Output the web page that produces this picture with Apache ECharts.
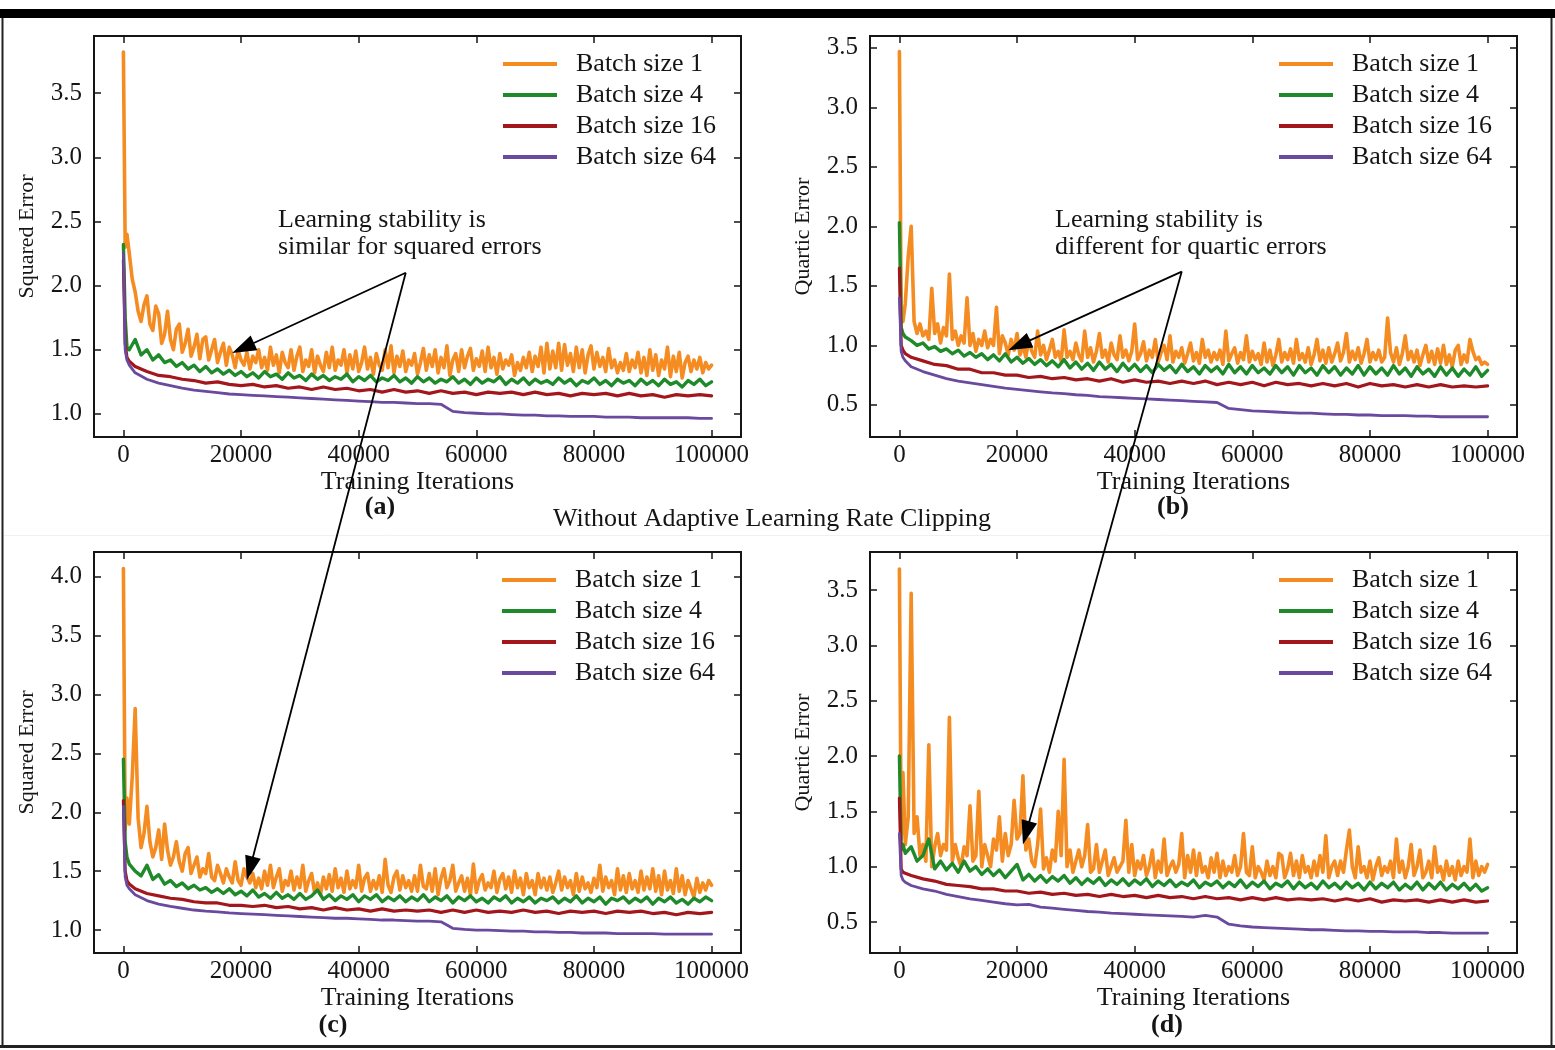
<!DOCTYPE html>
<html>
<head>
<meta charset="utf-8">
<script src="https://cdn.jsdelivr.net/npm/echarts@6/dist/echarts.min.js"></script>
<style>
  html, body { margin: 0; padding: 0; background: #fff; }
  #chart { width: 1555px; height: 1050px; }
</style>
</head>
<body>
<div id="chart"></div>
<script>
// ---- sample points (training iterations) ----
// batch size 1: every 500 iterations
const iterDense = [
  0, 300, 600, 1000, 1500, 2000, 2500, 3000, 3500, 4000,
  4500, 5000, 5500, 6000, 6500, 7000, 7500, 8000, 8500, 9000,
  9500, 10000, 10500, 11000, 11500, 12000, 12500, 13000, 13500, 14000,
  14500, 15000, 15500, 16000, 16500, 17000, 17500, 18000, 18500, 19000,
  19500, 20000, 20500, 21000, 21500, 22000, 22500, 23000, 23500, 24000,
  24500, 25000, 25500, 26000, 26500, 27000, 27500, 28000, 28500, 29000,
  29500, 30000, 30500, 31000, 31500, 32000, 32500, 33000, 33500, 34000,
  34500, 35000, 35500, 36000, 36500, 37000, 37500, 38000, 38500, 39000,
  39500, 40000, 40500, 41000, 41500, 42000, 42500, 43000, 43500, 44000,
  44500, 45000, 45500, 46000, 46500, 47000, 47500, 48000, 48500, 49000,
  49500, 50000, 50500, 51000, 51500, 52000, 52500, 53000, 53500, 54000,
  54500, 55000, 55500, 56000, 56500, 57000, 57500, 58000, 58500, 59000,
  59500, 60000, 60500, 61000, 61500, 62000, 62500, 63000, 63500, 64000,
  64500, 65000, 65500, 66000, 66500, 67000, 67500, 68000, 68500, 69000,
  69500, 70000, 70500, 71000, 71500, 72000, 72500, 73000, 73500, 74000,
  74500, 75000, 75500, 76000, 76500, 77000, 77500, 78000, 78500, 79000,
  79500, 80000, 80500, 81000, 81500, 82000, 82500, 83000, 83500, 84000,
  84500, 85000, 85500, 86000, 86500, 87000, 87500, 88000, 88500, 89000,
  89500, 90000, 90500, 91000, 91500, 92000, 92500, 93000, 93500, 94000,
  94500, 95000, 95500, 96000, 96500, 97000, 97500, 98000, 98500, 99000,
  99500, 100000
];
// batch size 4: every 1000 iterations
const iterFine = [
  0, 300, 600, 1000, 2000, 3000, 4000, 5000, 6000, 7000,
  8000, 9000, 10000, 11000, 12000, 13000, 14000, 15000, 16000, 17000,
  18000, 19000, 20000, 21000, 22000, 23000, 24000, 25000, 26000, 27000,
  28000, 29000, 30000, 31000, 32000, 33000, 34000, 35000, 36000, 37000,
  38000, 39000, 40000, 41000, 42000, 43000, 44000, 45000, 46000, 47000,
  48000, 49000, 50000, 51000, 52000, 53000, 54000, 55000, 56000, 57000,
  58000, 59000, 60000, 61000, 62000, 63000, 64000, 65000, 66000, 67000,
  68000, 69000, 70000, 71000, 72000, 73000, 74000, 75000, 76000, 77000,
  78000, 79000, 80000, 81000, 82000, 83000, 84000, 85000, 86000, 87000,
  88000, 89000, 90000, 91000, 92000, 93000, 94000, 95000, 96000, 97000,
  98000, 99000, 100000
];
// batch sizes 16 and 64: every 2000 iterations
const iterCoarse = [
  0, 300, 600, 1000, 2000, 4000, 6000, 8000, 10000, 12000,
  14000, 16000, 18000, 20000, 22000, 24000, 26000, 28000, 30000, 32000,
  34000, 36000, 38000, 40000, 42000, 44000, 46000, 48000, 50000, 52000,
  54000, 56000, 58000, 60000, 62000, 64000, 66000, 68000, 70000, 72000,
  74000, 76000, 78000, 80000, 82000, 84000, 86000, 88000, 90000, 92000,
  94000, 96000, 98000, 100000
];

// ---- tick labels ----
const xTicks = [0, 20000, 40000, 60000, 80000, 100000];
const yTicksA = [1.0, 1.5, 2.0, 2.5, 3.0, 3.5];
const yTicksB = [0.5, 1.0, 1.5, 2.0, 2.5, 3.0, 3.5];
const yTicksC = [1.0, 1.5, 2.0, 2.5, 3.0, 3.5, 4.0];
const yTicksD = [0.5, 1.0, 1.5, 2.0, 2.5, 3.0, 3.5];

const seriesNames = ['Batch size 1', 'Batch size 4', 'Batch size 16', 'Batch size 64'];

// ---- (a) squared error ----
const sqA_b1 = [
  3.82, 2.30, 2.40, 2.25, 2.05, 1.95, 1.80, 1.72, 1.85, 1.92,
  1.70, 1.65, 1.84, 1.78, 1.55, 1.62, 1.80, 1.58, 1.50, 1.66,
  1.70, 1.48, 1.55, 1.66, 1.45, 1.52, 1.62, 1.43, 1.58, 1.60,
  1.42, 1.50, 1.58, 1.40, 1.48, 1.55, 1.38, 1.52, 1.46, 1.36,
  1.50, 1.42, 1.38, 1.48, 1.35, 1.45, 1.40, 1.50, 1.36, 1.44,
  1.34, 1.52, 1.38, 1.46, 1.32, 1.48, 1.40, 1.36, 1.50, 1.34,
  1.45, 1.52, 1.33, 1.42, 1.37, 1.50, 1.32, 1.45, 1.38, 1.33,
  1.48, 1.36, 1.52, 1.34, 1.42, 1.38, 1.50, 1.32, 1.46, 1.35,
  1.49, 1.33, 1.40, 1.52, 1.35, 1.44, 1.31, 1.47, 1.38, 1.34,
  1.50, 1.36, 1.53, 1.32, 1.45, 1.37, 1.49, 1.33, 1.42, 1.38,
  1.47, 1.31, 1.40, 1.51, 1.34, 1.46, 1.37, 1.50, 1.32, 1.44,
  1.36, 1.53, 1.30, 1.42, 1.47, 1.33, 1.50, 1.36, 1.45, 1.51,
  1.34, 1.43, 1.37, 1.49, 1.33, 1.52, 1.36, 1.44, 1.31, 1.47,
  1.35, 1.42, 1.38, 1.46, 1.30, 1.40, 1.34, 1.44, 1.36, 1.48,
  1.33, 1.45, 1.37, 1.52, 1.32, 1.55, 1.35, 1.49, 1.36, 1.55,
  1.34, 1.54, 1.38, 1.47, 1.33, 1.52, 1.36, 1.50, 1.32, 1.46,
  1.53, 1.35, 1.48, 1.37, 1.44, 1.33, 1.51, 1.36, 1.42, 1.32,
  1.40, 1.34, 1.47, 1.33, 1.42, 1.36, 1.48, 1.32, 1.44, 1.30,
  1.50, 1.34, 1.46, 1.30, 1.42, 1.35, 1.52, 1.29, 1.45, 1.33,
  1.48, 1.28, 1.40, 1.45, 1.33, 1.42, 1.35, 1.44, 1.32, 1.40,
  1.35, 1.38
];
const sqA_b4 = [
  2.32, 1.75, 1.52, 1.50, 1.58, 1.46, 1.50, 1.42, 1.46, 1.40,
  1.42, 1.37, 1.40, 1.35, 1.38, 1.33, 1.37, 1.32, 1.35, 1.31,
  1.34, 1.30, 1.33, 1.29, 1.32, 1.28, 1.33, 1.29, 1.31, 1.27,
  1.32, 1.28, 1.30, 1.26, 1.31, 1.27, 1.30, 1.26, 1.29, 1.27,
  1.31, 1.25, 1.29, 1.26, 1.30, 1.25, 1.28, 1.26, 1.30, 1.25,
  1.28, 1.24, 1.29, 1.25, 1.28, 1.24, 1.27, 1.25, 1.29, 1.24,
  1.27, 1.23, 1.28, 1.24, 1.27, 1.25, 1.29, 1.23, 1.27, 1.24,
  1.28, 1.23, 1.27, 1.24, 1.26, 1.23, 1.28, 1.24, 1.27, 1.22,
  1.26, 1.24, 1.28, 1.23, 1.26, 1.22, 1.27, 1.24, 1.26, 1.22,
  1.27, 1.23, 1.26, 1.22, 1.27, 1.23, 1.25, 1.21, 1.26, 1.23,
  1.27, 1.22, 1.25
];
const sqA_b16 = [
  2.20, 1.55, 1.44, 1.41, 1.37, 1.33, 1.30, 1.29, 1.27, 1.26,
  1.24, 1.25, 1.23, 1.22, 1.23, 1.21, 1.22, 1.20, 1.21, 1.19,
  1.21, 1.19, 1.20, 1.18, 1.19, 1.17, 1.19, 1.17, 1.18, 1.16,
  1.18, 1.16, 1.17, 1.15, 1.17, 1.16, 1.17, 1.15, 1.17, 1.15,
  1.16, 1.14, 1.16, 1.15, 1.16, 1.14, 1.16, 1.14, 1.15, 1.13,
  1.15, 1.14, 1.15, 1.14
];
const sqA_b64 = [
  2.25, 1.50, 1.42, 1.38, 1.32, 1.27, 1.24, 1.22, 1.20, 1.185,
  1.175, 1.165, 1.155, 1.15, 1.145, 1.14, 1.135, 1.13, 1.125, 1.12,
  1.115, 1.11, 1.105, 1.10, 1.095, 1.09, 1.09, 1.085, 1.08, 1.08,
  1.075, 1.02, 1.01, 1.005, 1.00, 1.00, 0.995, 0.99, 0.99, 0.985,
  0.985, 0.98, 0.98, 0.98, 0.975, 0.975, 0.975, 0.97, 0.97, 0.97,
  0.97, 0.97, 0.965, 0.965
];

// ---- (b) quartic error ----
const quB_b1 = [
  3.47, 1.25, 1.20, 1.35, 1.75, 2.00, 1.20, 1.10, 1.18, 1.08,
  1.12, 1.05, 1.48, 1.10, 1.18, 1.02, 1.15, 1.08, 1.60, 1.05,
  1.12, 1.00, 1.08, 1.02, 1.40, 1.00, 1.10, 0.95, 1.05, 1.00,
  1.12, 0.98, 1.05, 1.00, 1.32, 0.93, 1.08, 1.02, 0.92, 1.05,
  0.96, 1.10, 0.92, 1.00, 0.90, 1.05, 0.95, 0.90, 1.12, 0.92,
  1.00, 0.88, 0.96, 1.05, 0.90, 0.95, 0.87, 1.13, 0.90, 0.95,
  0.88, 1.02, 0.92, 0.87, 1.12, 0.90, 0.98, 0.86, 0.95, 1.10,
  0.90, 0.96, 0.86, 1.02, 0.92, 0.88, 1.08, 0.90, 0.96, 0.87,
  0.95, 1.18, 0.88, 0.93, 1.03, 0.87, 0.96, 0.90, 1.05, 0.86,
  0.94, 1.00, 0.88, 1.08, 0.86, 0.95, 0.90, 0.98, 0.85, 0.93,
  1.02, 0.87, 0.94, 0.85, 1.05, 0.90, 0.96, 0.86, 0.94, 0.88,
  0.96, 0.84, 1.12, 0.87, 0.93, 0.98, 0.85, 0.94, 0.88, 1.08,
  0.86, 0.95, 0.88, 0.93, 0.84, 1.02, 0.86, 0.96, 0.83, 0.92,
  1.05, 0.86, 0.94, 0.88, 0.97, 0.85, 1.05, 0.88, 0.93, 0.86,
  0.98, 0.84, 0.92, 1.05, 0.87, 0.96, 0.85, 0.98, 0.86, 0.93,
  1.02, 0.87, 0.94, 1.10, 0.86, 0.95, 0.88, 0.98, 0.85, 0.93,
  1.05, 0.86, 0.94, 0.88, 0.96, 0.86, 0.90, 1.23, 0.94, 0.86,
  0.98, 0.84, 0.93, 1.08, 0.88, 0.95, 0.86, 0.96, 0.83, 0.92,
  1.00, 0.86, 0.95, 0.84, 0.97, 0.85, 1.00, 0.84, 0.92, 0.82,
  0.96, 1.00, 0.84, 0.92, 0.86, 1.05, 0.95, 0.88, 0.90, 0.84,
  0.86, 0.84
];
const quB_b4 = [
  2.03, 1.15, 1.10, 1.07, 1.04, 1.00, 1.02, 0.97, 0.99, 0.95,
  0.97, 0.93, 0.96, 0.91, 0.94, 0.90, 0.93, 0.88, 0.92, 0.87,
  0.93, 0.86, 0.90, 0.85, 0.89, 0.84, 0.88, 0.83, 0.87, 0.82,
  0.88, 0.81, 0.86, 0.80, 0.85, 0.79, 0.86, 0.80, 0.84, 0.78,
  0.85, 0.79, 0.84, 0.78, 0.83, 0.77, 0.84, 0.79, 0.83, 0.77,
  0.84, 0.78, 0.82, 0.76, 0.83, 0.78, 0.82, 0.76, 0.84, 0.77,
  0.82, 0.76, 0.83, 0.77, 0.81, 0.76, 0.83, 0.77, 0.82, 0.75,
  0.83, 0.77, 0.81, 0.75, 0.83, 0.77, 0.82, 0.75, 0.81, 0.76,
  0.83, 0.75, 0.82, 0.76, 0.81, 0.75, 0.83, 0.76, 0.81, 0.74,
  0.82, 0.76, 0.80, 0.74, 0.82, 0.75, 0.81, 0.74, 0.80, 0.75,
  0.82, 0.74, 0.79
];
const quB_b16 = [
  1.65, 1.00, 0.96, 0.93, 0.90, 0.87, 0.84, 0.83, 0.80, 0.80,
  0.77, 0.77, 0.75, 0.75, 0.73, 0.74, 0.72, 0.73, 0.71, 0.72,
  0.70, 0.72, 0.69, 0.71, 0.69, 0.70, 0.68, 0.70, 0.68, 0.70,
  0.67, 0.69, 0.67, 0.69, 0.66, 0.69, 0.67, 0.68, 0.66, 0.68,
  0.66, 0.68, 0.65, 0.68, 0.66, 0.67, 0.65, 0.67, 0.65, 0.67,
  0.65, 0.66, 0.65, 0.66
];
const quB_b64 = [
  1.40, 0.95, 0.90, 0.87, 0.82, 0.78, 0.75, 0.72, 0.70, 0.685,
  0.67, 0.655, 0.64, 0.63, 0.62, 0.61, 0.60, 0.595, 0.585, 0.58,
  0.57, 0.565, 0.56, 0.555, 0.55, 0.545, 0.54, 0.535, 0.53, 0.525,
  0.52, 0.47, 0.46, 0.45, 0.445, 0.44, 0.435, 0.43, 0.43, 0.425,
  0.42, 0.42, 0.415, 0.415, 0.41, 0.41, 0.41, 0.405, 0.405, 0.40,
  0.40, 0.40, 0.40, 0.40
];

// ---- (c) squared error ----
const sqC_b1 = [
  4.07, 1.85, 2.12, 1.90, 2.30, 2.88, 1.95, 1.70, 1.82, 2.05,
  1.75, 1.62, 1.70, 1.85, 1.60, 1.90, 1.68, 1.55, 1.62, 1.75,
  1.58, 1.50, 1.65, 1.70, 1.48, 1.55, 1.62, 1.45, 1.52, 1.48,
  1.65, 1.45, 1.42, 1.55, 1.48, 1.40, 1.52, 1.45, 1.40, 1.58,
  1.42, 1.38, 1.52, 1.45, 1.40, 1.48, 1.36, 1.44, 1.35, 1.50,
  1.38, 1.55, 1.36, 1.45, 1.52, 1.33, 1.42, 1.38, 1.50, 1.34,
  1.45, 1.36, 1.55, 1.33, 1.42, 1.48, 1.32, 1.40, 1.30, 1.45,
  1.35, 1.47, 1.33, 1.52, 1.36, 1.44, 1.32, 1.50, 1.35, 1.42,
  1.36, 1.55, 1.33, 1.44, 1.48, 1.33, 1.42, 1.35, 1.46, 1.32,
  1.60, 1.38, 1.32, 1.45, 1.50, 1.34, 1.46, 1.36, 1.42, 1.33,
  1.46, 1.33, 1.55, 1.37, 1.35, 1.48, 1.33, 1.52, 1.30, 1.44,
  1.52, 1.36, 1.42, 1.55, 1.33, 1.40, 1.46, 1.33, 1.44, 1.30,
  1.56, 1.32, 1.42, 1.47, 1.34, 1.40, 1.36, 1.50, 1.32, 1.43,
  1.48, 1.35, 1.45, 1.32, 1.50, 1.36, 1.44, 1.30, 1.48, 1.36,
  1.42, 1.30, 1.48, 1.36, 1.44, 1.34, 1.45, 1.32, 1.40, 1.50,
  1.34, 1.45, 1.36, 1.42, 1.30, 1.48, 1.33, 1.45, 1.35, 1.40,
  1.32, 1.44, 1.36, 1.55, 1.33, 1.45, 1.36, 1.42, 1.30, 1.52,
  1.34, 1.46, 1.32, 1.48, 1.35, 1.42, 1.32, 1.50, 1.34, 1.45,
  1.35, 1.52, 1.33, 1.46, 1.30, 1.50, 1.34, 1.42, 1.31, 1.52,
  1.33, 1.46, 1.30, 1.42, 1.35, 1.28, 1.44, 1.32, 1.40, 1.34,
  1.42, 1.38
];
const sqC_b4 = [
  2.45, 1.75, 1.62, 1.56, 1.50, 1.46, 1.55, 1.43, 1.47, 1.39,
  1.42, 1.37, 1.40, 1.35, 1.38, 1.34, 1.36, 1.32, 1.35, 1.31,
  1.35, 1.30, 1.33, 1.29, 1.34, 1.28, 1.31, 1.27, 1.32, 1.27,
  1.30, 1.26, 1.31, 1.26, 1.29, 1.34, 1.26, 1.30, 1.25, 1.29,
  1.26, 1.30, 1.24, 1.29, 1.26, 1.30, 1.24, 1.28, 1.25, 1.29,
  1.24, 1.28, 1.25, 1.30, 1.24, 1.28, 1.25, 1.29, 1.23, 1.28,
  1.25, 1.29, 1.24, 1.27, 1.23, 1.28, 1.25, 1.29, 1.23, 1.27,
  1.24, 1.28, 1.23, 1.27, 1.25, 1.28, 1.23, 1.27, 1.24, 1.29,
  1.23, 1.27, 1.24, 1.28, 1.22, 1.27, 1.25, 1.28, 1.23, 1.27,
  1.24, 1.28, 1.22, 1.27, 1.24, 1.28, 1.23, 1.26, 1.22, 1.27,
  1.24, 1.28, 1.25
];
const sqC_b16 = [
  2.10, 1.50, 1.42, 1.39, 1.35, 1.31, 1.29, 1.27, 1.26, 1.24,
  1.23, 1.23, 1.21, 1.21, 1.20, 1.21, 1.19, 1.20, 1.18, 1.19,
  1.17, 1.19, 1.17, 1.18, 1.16, 1.18, 1.16, 1.17, 1.16, 1.17,
  1.15, 1.17, 1.15, 1.17, 1.15, 1.16, 1.15, 1.17, 1.15, 1.16,
  1.14, 1.16, 1.15, 1.16, 1.14, 1.16, 1.15, 1.16, 1.14, 1.15,
  1.13, 1.15, 1.14, 1.15
];
const sqC_b64 = [
  2.05, 1.45, 1.38, 1.35, 1.30, 1.25, 1.22, 1.20, 1.185, 1.17,
  1.16, 1.155, 1.145, 1.14, 1.135, 1.13, 1.125, 1.12, 1.115, 1.11,
  1.105, 1.10, 1.10, 1.095, 1.09, 1.085, 1.085, 1.08, 1.075, 1.075,
  1.07, 1.015, 1.005, 1.00, 1.00, 0.995, 0.99, 0.99, 0.985, 0.985,
  0.98, 0.98, 0.975, 0.975, 0.975, 0.97, 0.97, 0.97, 0.97, 0.965,
  0.965, 0.965, 0.965, 0.965
];

// ---- (d) quartic error ----
const quD_b1 = [
  3.69, 1.25, 1.85, 1.20, 1.45, 3.47, 1.30, 1.45, 1.10, 1.20,
  1.05, 2.10, 1.00, 1.18, 1.30, 1.10, 1.20, 1.15, 2.35, 1.05,
  1.20, 1.08, 1.00, 1.18, 1.10, 1.55, 1.05, 1.10, 1.68, 1.00,
  1.20, 1.10, 1.00, 1.25, 1.15, 1.45, 1.05, 1.30, 1.10, 1.20,
  1.60, 1.25, 1.30, 1.82, 1.15, 1.25, 1.05, 1.00, 1.20, 1.52,
  0.98, 1.08, 0.95, 1.15, 1.05, 1.50, 1.10, 1.97, 1.00, 1.15,
  0.95, 1.05, 1.15, 1.00, 1.10, 1.38, 0.95, 0.98, 1.20, 0.95,
  1.05, 1.15, 0.92, 1.00, 1.08, 0.95, 1.00, 1.05, 1.42, 0.95,
  1.20, 0.92, 1.05, 0.98, 1.10, 0.92, 1.00, 1.15, 0.90, 1.05,
  0.95, 1.25, 0.92, 1.00, 1.05, 0.95, 1.02, 1.30, 0.90, 1.10,
  0.95, 1.15, 0.92, 1.12, 0.95, 1.00, 0.90, 1.08, 0.95, 1.12,
  0.90, 1.05, 0.92, 1.00, 0.95, 1.10, 0.92, 1.00, 1.30, 0.95,
  0.92, 1.18, 0.90, 1.00, 0.95, 0.88, 1.05, 0.92, 1.00, 0.90,
  1.12, 1.10, 0.90, 0.98, 1.12, 0.92, 1.05, 0.90, 1.10, 0.95,
  1.00, 0.90, 1.05, 0.92, 1.10, 0.95, 1.28, 0.90, 1.00, 1.05,
  0.92, 1.05, 0.95, 1.15, 1.33, 1.00, 0.90, 1.18, 0.95, 1.00,
  0.90, 1.05, 0.88, 1.00, 1.08, 0.92, 1.00, 0.95, 1.05, 0.90,
  1.25, 0.95, 1.05, 0.90, 1.00, 1.20, 0.92, 1.00, 1.15, 0.90,
  0.95, 1.05, 0.90, 1.18, 0.95, 1.00, 0.88, 1.05, 0.92, 1.00,
  0.88, 1.05, 0.92, 1.00, 0.95, 1.25, 0.90, 1.05, 0.92, 1.00,
  0.95, 1.02
];
const quD_b4 = [
  2.00, 1.15, 1.20, 1.12, 1.18, 1.05, 1.10, 1.25, 0.98, 1.05,
  0.97, 1.03, 0.95, 1.05, 0.96, 1.00, 0.93, 0.98, 0.92, 0.97,
  0.90, 0.96, 1.02, 0.88, 0.93, 0.87, 0.92, 0.86, 0.91, 0.87,
  0.92, 0.85, 0.90, 0.84, 0.89, 0.85, 0.90, 0.83, 0.88, 0.84,
  0.89, 0.83, 0.88, 0.84, 0.89, 0.82, 0.87, 0.83, 0.88, 0.82,
  0.86, 0.83, 0.88, 0.81, 0.86, 0.83, 0.87, 0.81, 0.86, 0.82,
  0.88, 0.81, 0.86, 0.82, 0.87, 0.80, 0.85, 0.82, 0.87, 0.80,
  0.86, 0.81, 0.85, 0.80, 0.87, 0.81, 0.85, 0.80, 0.86, 0.81,
  0.85, 0.79, 0.86, 0.80, 0.85, 0.81, 0.86, 0.79, 0.84, 0.80,
  0.86, 0.79, 0.85, 0.80, 0.86, 0.79, 0.84, 0.80, 0.85, 0.79,
  0.84, 0.78, 0.81
];
const quD_b16 = [
  1.62, 0.98, 0.95, 0.94, 0.92, 0.89, 0.87, 0.84, 0.83, 0.82,
  0.80, 0.80, 0.78, 0.78, 0.76, 0.77, 0.75, 0.76, 0.74, 0.75,
  0.73, 0.75, 0.73, 0.74, 0.72, 0.74, 0.72, 0.73, 0.71, 0.73,
  0.71, 0.72, 0.70, 0.72, 0.70, 0.72, 0.70, 0.71, 0.70, 0.71,
  0.69, 0.71, 0.69, 0.71, 0.68, 0.70, 0.69, 0.70, 0.68, 0.70,
  0.68, 0.70, 0.68, 0.69
];
const quD_b64 = [
  1.30, 0.92, 0.88, 0.86, 0.83, 0.80, 0.78, 0.75, 0.73, 0.71,
  0.695, 0.68, 0.665, 0.655, 0.66, 0.635, 0.625, 0.615, 0.605, 0.595,
  0.59, 0.58, 0.575, 0.57, 0.565, 0.56, 0.555, 0.55, 0.545, 0.56,
  0.545, 0.48, 0.465, 0.455, 0.45, 0.445, 0.44, 0.435, 0.43, 0.43,
  0.425, 0.42, 0.42, 0.415, 0.415, 0.41, 0.41, 0.41, 0.405, 0.405,
  0.40, 0.40, 0.40, 0.40
];

// ---- annotation anchors, in data units of the panel they sit in ----
const noteOriginSq = [48000, 2.10];   // panel (a)
const noteTipSqA = [18500, 1.475];    // panel (a)
const noteTipSqC = [21000, 1.425];    // panel (c)
const noteOriginQu = [48000, 1.62];   // panel (b)
const noteTipQuB = [18500, 0.96];     // panel (b)
const noteTipQuD = [21000, 1.20];     // panel (d)

// ---- styling ----
const SERIF = "'Liberation Serif', 'DejaVu Serif', serif";
const INK = '#151515';
const lineColors = ['#F48C22', '#1F8A2A', '#A3161B', '#6A4A9E'];
const lineWidths = [3.6, 3.4, 3.2, 2.8];

const panels = [
  { grid: { left: 94, top: 36, width: 647, height: 401 }, yName: 'Squared Error', yMin: 0.82, yMax: 3.945, yTicks: yTicksA,
    data: [[iterDense, sqA_b1], [iterFine, sqA_b4], [iterCoarse, sqA_b16], [iterCoarse, sqA_b64]], legend: { left: 503, top: 51 } },
  { grid: { left: 870, top: 36, width: 647, height: 401 }, yName: 'Quartic Error', yMin: 0.23, yMax: 3.60, yTicks: yTicksB,
    data: [[iterDense, quB_b1], [iterFine, quB_b4], [iterCoarse, quB_b16], [iterCoarse, quB_b64]], legend: { left: 1279, top: 51 } },
  { grid: { left: 94, top: 552, width: 647, height: 401 }, yName: 'Squared Error', yMin: 0.805, yMax: 4.21, yTicks: yTicksC,
    data: [[iterDense, sqC_b1], [iterFine, sqC_b4], [iterCoarse, sqC_b16], [iterCoarse, sqC_b64]], legend: { left: 502, top: 567 } },
  { grid: { left: 870, top: 552, width: 647, height: 401 }, yName: 'Quartic Error', yMin: 0.22, yMax: 3.843, yTicks: yTicksD,
    data: [[iterDense, quD_b1], [iterFine, quD_b4], [iterCoarse, quD_b16], [iterCoarse, quD_b64]], legend: { left: 1279, top: 567 } }
];

const tickStyle = (vals) => ({ inside: true, length: 7, lineStyle: { color: INK, width: 1.5 }, customValues: vals });
const labelStyle = { fontFamily: SERIF, fontSize: 25, color: INK };
const hiddenLine = { show: false, onZero: false };

const grids = [], xAxes = [], yAxes = [], series = [], legends = [];
panels.forEach((p, i) => {
  grids.push(Object.assign({ show: true, borderColor: INK, borderWidth: 2, backgroundColor: 'transparent' }, p.grid));
  xAxes.push({
    gridIndex: i, type: 'value', position: 'bottom', min: -5000, max: 105000,
    axisLine: hiddenLine, splitLine: { show: false },
    axisTick: tickStyle(xTicks),
    axisLabel: Object.assign({ customValues: xTicks, margin: 6, formatter: v => String(v) }, labelStyle),
    name: 'Training Iterations', nameLocation: 'middle', nameGap: 32,
    nameTextStyle: { fontFamily: SERIF, fontSize: 26, color: INK }
  });
  xAxes.push({
    gridIndex: i, type: 'value', position: 'top', min: -5000, max: 105000,
    axisLine: hiddenLine, splitLine: { show: false },
    axisTick: tickStyle(xTicks), axisLabel: { show: false }
  });
  yAxes.push({
    gridIndex: i, type: 'value', position: 'left', min: p.yMin, max: p.yMax,
    axisLine: hiddenLine, splitLine: { show: false },
    axisTick: tickStyle(p.yTicks),
    axisLabel: Object.assign({ customValues: p.yTicks, margin: 12, formatter: v => v.toFixed(1) }, labelStyle),
    name: p.yName, nameLocation: 'middle', nameGap: 56, nameRotate: 90,
    nameTextStyle: { fontFamily: SERIF, fontSize: 22, color: INK }
  });
  yAxes.push({
    gridIndex: i, type: 'value', position: 'right', min: p.yMin, max: p.yMax,
    axisLine: hiddenLine, splitLine: { show: false },
    axisTick: tickStyle(p.yTicks), axisLabel: { show: false }
  });
  p.data.forEach(([xs, ys], k) => {
    series.push({
      type: 'line', name: seriesNames[k], xAxisIndex: 2 * i, yAxisIndex: 2 * i,
      data: xs.map((x, j) => [x, ys[j]]),
      symbol: 'none', showSymbol: false, silent: true, animation: false,
      color: lineColors[k],
      lineStyle: { width: lineWidths[k], color: lineColors[k], join: 'round', cap: 'round' },
      z: 2 + k
    });
  });
  legends.push({
    left: p.legend.left, top: p.legend.top, orient: 'vertical', icon: 'rect', padding: 0,
    itemWidth: 54, itemHeight: 4, itemGap: 5, selectedMode: false,
    data: seriesNames,
    textStyle: { fontFamily: SERIF, fontSize: 26, color: INK, lineHeight: 26, padding: [0, 0, 0, 14] }
  });
});

const chart = echarts.init(document.getElementById('chart'), null, { renderer: 'canvas' });
chart.setOption({
  backgroundColor: '#fff',
  animation: false,
  grid: grids, xAxis: xAxes, yAxis: yAxes, series: series, legend: legends
});

// ---- annotation arrows, placed through each panel's own scales ----
function toPx(gridIndex, pt) {
  return chart.convertToPixel({ gridIndex: gridIndex }, pt);
}
function arrow(p0, p1) {
  const dx = p1[0] - p0[0], dy = p1[1] - p0[1];
  const len = Math.hypot(dx, dy);
  const ux = dx / len, uy = dy / len;
  const headLen = 24, headHalf = 8;
  const bx = p1[0] - ux * headLen, by = p1[1] - uy * headLen;
  return [
    { type: 'line', z: 100, shape: { x1: p0[0], y1: p0[1], x2: bx + ux * 2, y2: by + uy * 2 },
      style: { stroke: '#000', lineWidth: 1.8 } },
    { type: 'polygon', z: 100, shape: { points: [[p1[0], p1[1]], [bx - uy * headHalf, by + ux * headHalf], [bx + uy * headHalf, by - ux * headHalf]] },
      style: { fill: '#000' } }
  ];
}
const oSq = toPx(0, noteOriginSq), oQu = toPx(1, noteOriginQu);
const arrows = [].concat(
  arrow(oSq, toPx(0, noteTipSqA)),
  arrow(oSq, toPx(2, noteTipSqC)),
  arrow(oQu, toPx(1, noteTipQuB)),
  arrow(oQu, toPx(3, noteTipQuD))
);

function text(str, x, y, opts) {
  return {
    type: 'text', x: x, y: y, z: 100,
    style: Object.assign({ text: str, fill: INK, fontFamily: SERIF, fontSize: 26, align: 'center', verticalAlign: 'middle' }, opts || {})
  };
}

const frame = [
  { type: 'rect', z: 50, shape: { x: 0, y: 9, width: 1555, height: 9 }, style: { fill: '#000' } },
  { type: 'line', z: 50, shape: { x1: 2.5, y1: 18, x2: 2.5, y2: 1048 }, style: { stroke: '#222', lineWidth: 2 } },
  { type: 'line', z: 50, shape: { x1: 1551.5, y1: 18, x2: 1551.5, y2: 1048 }, style: { stroke: '#222', lineWidth: 2 } },
  { type: 'line', z: 50, shape: { x1: 0, y1: 1046.5, x2: 1555, y2: 1046.5 }, style: { stroke: '#222', lineWidth: 3 } },
  { type: 'line', z: 1, shape: { x1: 4, y1: 535.5, x2: 1550, y2: 535.5 }, style: { stroke: '#f0f0f0', lineWidth: 1 } }
];

const labels = [
  text('(a)', 380, 507, { fontWeight: 'bold' }),
  text('(b)', 1173, 507, { fontWeight: 'bold' }),
  text('(c)', 333, 1025, { fontWeight: 'bold' }),
  text('(d)', 1167, 1025, { fontWeight: 'bold' }),
  text('Without Adaptive Learning Rate Clipping', 772, 519),
  text('Learning stability is\nsimilar for squared errors', 278, 207, { align: 'left', verticalAlign: 'top', lineHeight: 27 }),
  text('Learning stability is\ndifferent for quartic errors', 1055, 207, { align: 'left', verticalAlign: 'top', lineHeight: 27 })
];

chart.setOption({ graphic: { elements: frame.concat(labels, arrows) } });
</script>
</body>
</html>
